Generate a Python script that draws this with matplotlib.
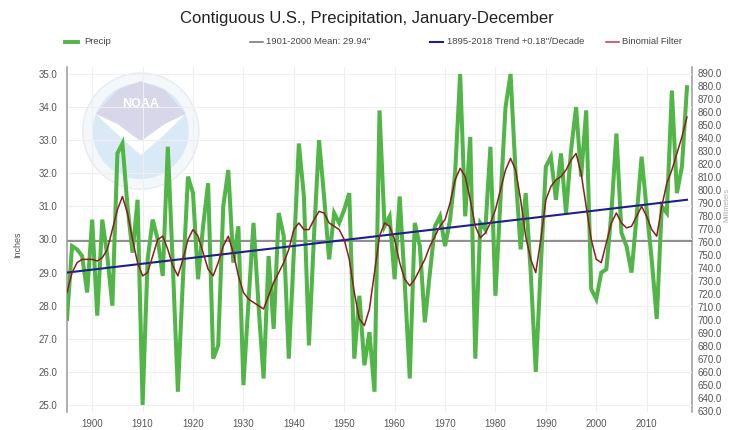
import numpy as np
import matplotlib
matplotlib.use("Agg")
from matplotlib import pyplot as plt
from matplotlib.lines import Line2D
from matplotlib.patches import Ellipse, Polygon

plt.rcParams['font.family'] = ['Liberation Sans', 'DejaVu Sans']

years = list(range(1895, 2019))

precip = [
    27.6, 29.8, 29.7, 29.5, 28.4,
    30.6, 27.7, 30.6, 29.5, 28.0, 32.6, 32.9, 31.0, 29.6, 31.2,
    25.0, 29.4, 30.6, 30.0, 28.9, 32.8, 29.2, 25.4, 28.8, 31.9,
    31.4, 28.8, 30.4, 31.7, 26.4, 26.8, 31.0, 32.1, 29.3, 30.4,
    25.6, 28.1, 30.5, 28.0, 25.8, 29.5, 27.3, 30.8, 30.1, 26.4,
    29.6, 32.9, 31.3, 26.8, 30.1, 33.0, 31.3, 29.4, 30.8, 30.5,
    30.9, 31.4, 26.4, 28.3, 26.2, 27.2, 25.4, 33.9, 30.4, 30.7,
    28.8, 31.3, 28.7, 25.8, 30.5, 29.8, 27.5, 29.0, 30.4, 30.7,
    29.8, 30.6, 32.0, 35.0, 30.7, 33.1, 26.4, 30.5, 30.3, 32.8,
    28.3, 31.2, 34.0, 35.0, 32.0, 29.7, 31.4, 29.0, 26.0, 29.2,
    32.2, 32.5, 31.2, 32.6, 30.8, 32.7, 34.0, 31.9, 33.9, 28.5,
    28.2, 29.0, 29.1, 30.8, 33.2, 30.2, 29.8, 29.0, 30.7, 32.5,
    30.9, 29.4, 27.6, 31.0, 30.8, 34.5, 31.4, 32.2, 34.6,
]

binomial = [
    28.4, 29.0, 29.3, 29.4, 29.4,
    29.4, 29.35, 29.45, 29.7, 30.3, 30.9, 31.3, 30.8, 30.0, 29.3,
    28.9, 29.0, 29.5, 30.0, 30.1, 29.7, 29.2, 28.9, 29.4, 30.0,
    30.3, 30.1, 29.6, 29.1, 28.9, 29.3, 29.8, 30.1, 29.6, 28.9,
    28.4, 28.2, 28.1, 28.0, 27.9, 28.3, 28.7, 29.0, 29.3, 29.7,
    30.3, 30.5, 30.3, 30.3, 30.6, 30.85, 30.8, 30.5, 30.4, 30.3,
    30.0, 29.4, 28.4, 27.6, 27.4, 27.9, 29.0, 30.1, 30.5, 30.4,
    30.0, 29.3, 28.8, 28.6, 28.8, 29.1, 29.4, 29.8, 30.1, 30.4,
    30.6, 31.1, 31.8, 32.15, 31.9, 31.2, 30.4, 30.05, 30.2, 30.5,
    30.9, 31.5, 32.1, 32.45, 32.1, 31.2, 30.1, 29.4, 29.0, 30.0,
    31.2, 31.6, 31.8, 31.9, 32.1, 32.4, 32.6, 32.0, 31.0, 30.0,
    29.4, 29.3, 29.9, 30.5, 30.8, 30.5, 30.35, 30.4, 30.7, 31.0,
    30.7, 30.3, 30.1, 31.0, 31.7, 32.1, 32.6, 33.1, 33.7,
]

mean_value = 29.94
trend_years = [1895, 2018]
trend_values = [29.0, 31.2]

y_ticks = [25.0, 26.0, 27.0, 28.0, 29.0, 30.0, 31.0, 32.0, 33.0, 34.0, 35.0]
x_ticks = [1900, 1910, 1920, 1930, 1940, 1950, 1960, 1970, 1980, 1990, 2000, 2010]
mm_ticks = list(range(630, 891, 10))

GREEN = "#52b548"
GRAY = "#6f6f6f"
BLUE = "#1c1f8e"
RED = "#8e1c22"
TXT = "#555555"

fig = plt.figure(figsize=(7.33, 4.30), dpi=100)
ax = fig.add_axes([0.0914, 0.0428, 0.8527, 0.8005])

# faint NOAA watermark
ax.add_patch(Ellipse((0.118, 0.815), 116 / 625, 116 / 344, transform=ax.transAxes,
                     fc="#f5f8fb", ec="#e6ebf2", lw=1, zorder=0))
ax.add_patch(Ellipse((0.118, 0.815), 96 / 625, 96 / 344, transform=ax.transAxes,
                     fc="#dae9f6", ec="none", zorder=0))
ax.add_patch(Polygon([(0.046, 0.865), (0.081, 0.935), (0.118, 0.96), (0.156, 0.935),
                      (0.190, 0.865), (0.156, 0.835), (0.118, 0.785), (0.081, 0.835)],
                     closed=True, transform=ax.transAxes, fc="#d8d6e9", ec="none",
                     zorder=0))
ax.add_patch(Polygon([(0.046, 0.865), (0.081, 0.835), (0.118, 0.785), (0.156, 0.835),
                      (0.190, 0.865), (0.156, 0.805), (0.118, 0.745), (0.081, 0.805)],
                     closed=True, transform=ax.transAxes, fc="white", ec="none",
                     zorder=0))
ax.text(0.118, 0.895, "NOAA", transform=ax.transAxes, ha="center", va="center",
        fontsize=9, fontweight="bold", color="white", zorder=0)

ax.axhline(mean_value, color=GRAY, lw=1.1, zorder=2)
ax.plot(years, precip, color=GREEN, lw=2.9, zorder=3, solid_joinstyle="miter")
ax.plot(trend_years, trend_values, color=BLUE, lw=1.5, zorder=4)
ax.plot(years, binomial, color=RED, lw=1.1, zorder=5)

ax.set_xlim(1895, 2019)
ax.set_ylim(24.8, 35.2)
ax.set_xticks(x_ticks)
ax.set_yticks(y_ticks)
ax.set_yticklabels([f"{v:.1f}" for v in y_ticks])
ax.grid(True, color="#efefef", lw=0.8, zorder=0)
ax.set_axisbelow(True)
ax.tick_params(length=0, labelsize=7, colors=TXT, pad=7)
ax.tick_params(axis="x", pad=5)
for side in ["top", "bottom"]:
    ax.spines[side].set_visible(False)
ax.spines["left"].set_color("#9a9a9a")
ax.spines["left"].set_linewidth(1.1)
ax.spines["right"].set_visible(False)

sec = ax.secondary_yaxis("right", functions=(lambda v: v * 25.4, lambda v: v / 25.4))
sec.set_yticks(mm_ticks)
sec.set_yticklabels([f"{v:.1f}" for v in mm_ticks])
sec.tick_params(length=0, labelsize=7, colors=TXT, pad=4)
sec.spines["right"].set_color("#9a9a9a")
sec.spines["right"].set_linewidth(1.1)

fig.text(0.5, 0.958, "Contiguous U.S., Precipitation, January-December",
         ha="center", va="center", fontsize=12, color="#222222")
fig.text(18 / 733, 1 - 245 / 430, "Inches", rotation=90, ha="center", va="center",
         fontsize=6.5, color=TXT)
fig.text(727 / 733, 1 - 205 / 430, "Millimeters", rotation=90, ha="center",
         va="center", fontsize=5, color="#aaaaaa")

# legend row
legend_items = [
    ("Precip", GREEN, 2.8, 65, 84),
    ("1901-2000 Mean: 29.94\"", GRAY, 1.1, 250, 266),
    ("1895-2018 Trend +0.18\"/Decade", BLUE, 1.5, 430, 447),
    ("Binomial Filter", "#c0394b", 1.1, 606, 622),
]
ly = 1 - 42 / 430
for label, color, lw, hx, tx in legend_items:
    fig.add_artist(Line2D([hx / 733, (hx + 13) / 733], [ly, ly], color=color, lw=lw))
    fig.text(tx / 733, ly, label, ha="left", va="center", fontsize=6.8, color="#444444")

plt.savefig("out.png", dpi=100)
